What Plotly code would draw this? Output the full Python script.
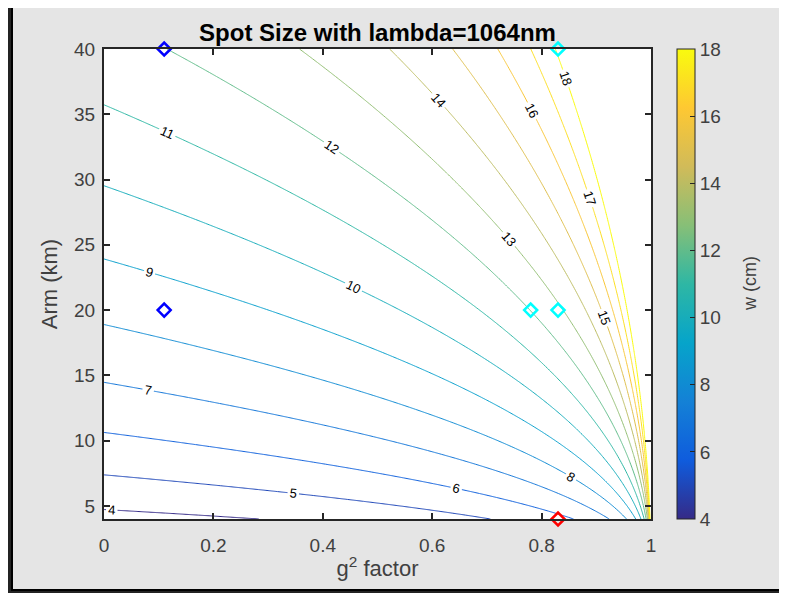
import numpy as np
import plotly.graph_objects as go

# ---- data ----
wavelength_m = 1064e-9                     # lambda = 1064 nm (from title)
g2_grid = np.linspace(0.0, 1.0, 501)       # x axis: g^2 factor
arm_km_grid = np.linspace(4.0, 40.0, 241)  # y axis: arm length (km)
contour_levels = dict(start=4, end=18, size=1)

marker_g2 = [0.11, 0.11, 0.78, 0.83, 0.83, 0.83]
marker_arm = [40, 20, 20, 20, 40, 4]
marker_colors = ["#0000ff", "#0000ff", "#00ffff", "#00ffff", "#00ffff", "#ff0000"]

x_ticks = [0, 0.2, 0.4, 0.6, 0.8, 1]
x_ticklabels = ["0", "0.2", "0.4", "0.6", "0.8", "1"]
y_ticks = [5, 10, 15, 20, 25, 30, 35, 40]
cbar_ticks = [4, 6, 8, 10, 12, 14, 16, 18]

# spot size on mirrors of a symmetric cavity, in cm
G2, L = np.meshgrid(g2_grid, arm_km_grid * 1000.0)
one_minus = np.clip(1.0 - G2, 1e-7, None)
W_cm = 100.0 * np.sqrt(L * wavelength_m / np.pi / np.sqrt(one_minus))

parula = [
    [0.000, "#352a87"], [0.125, "#0f5cdd"], [0.250, "#1481d6"],
    [0.375, "#06a4ca"], [0.500, "#2eb7a4"], [0.625, "#87bf77"],
    [0.750, "#d1bb59"], [0.875, "#fec832"], [1.000, "#f9fb0e"],
]

FONT = "Liberation Sans, Arial, Helvetica, sans-serif"
AX = "#262626"
TXT = "#404040"

W, H = 779, 585
ML, MT, PW, PH = 96, 41, 547, 470

fig = go.Figure()

fig.add_trace(go.Contour(
    x=g2_grid, y=arm_km_grid, z=W_cm,
    zmin=4, zmax=18, zauto=False,
    colorscale=parula,
    autocontour=False,
    contours=dict(coloring="lines", showlabels=True,
                  labelfont=dict(size=13, color="black", family=FONT),
                  **contour_levels),
    line=dict(width=1),
    showscale=False,
    hoverinfo="skip",
))

fig.add_trace(go.Scatter(
    x=marker_g2, y=marker_arm, mode="markers",
    marker=dict(symbol="diamond-open", size=10, color=marker_colors,
                line=dict(width=2.5, color=marker_colors)),
    showlegend=False, cliponaxis=False,
))

# colorbar carrier (invisible marker)
fig.add_trace(go.Scatter(
    x=[0.5], y=[20], mode="markers",
    marker=dict(size=1, opacity=0, color=[10], colorscale=parula,
                cmin=4, cmax=18, showscale=True,
                colorbar=dict(
                    x=(677 - 8 - ML) / PW, xanchor="left", xpad=0, ypad=0,
                    y=0.5, yanchor="middle", len=1, lenmode="fraction",
                    thickness=18, outlinecolor=AX, outlinewidth=1,
                    ticks="inside", ticklen=5, tickcolor=AX,
                    tickvals=cbar_ticks, ticktext=[str(v) for v in cbar_ticks],
                    tickprefix=" ",
                    tickfont=dict(size=19, color=TXT, family=FONT),
                )),
    showlegend=False, hoverinfo="skip",
))

def px2x(fx):
    return (fx - ML) / PW

def py2y(fy):
    return (MT + PH - fy) / PH

shapes = [
    dict(type="rect", xref="paper", yref="paper", layer="below",
         x0=px2x(4), x1=px2x(W + 10), y0=py2y(582), y1=py2y(-10),
         fillcolor="#e5e5e5", line=dict(color="black", width=2)),
    dict(type="rect", xref="paper", yref="paper", layer="below",
         x0=0, x1=1, y0=0, y1=1, fillcolor="white", line=dict(width=0)),
]

fig.update_layout(
    width=W, height=H,
    margin=dict(l=ML, r=W - ML - PW, t=MT, b=H - MT - PH, pad=0),
    paper_bgcolor="#232323", plot_bgcolor="white",
    font=dict(family=FONT, color=TXT),
    shapes=shapes,
    annotations=[dict(text="w (cm)", xref="paper", yref="paper",
                      x=px2x(750 - 8), y=0.5, xanchor="center", yanchor="middle",
                      textangle=-90, showarrow=False,
                      font=dict(size=18, color=TXT, family=FONT))],
    title=dict(text="<b>Spot Size with lambda=1064nm</b>",
               x=0.5, xref="paper", xanchor="center",
               y=1 - 25 / H, yref="container", yanchor="middle",
               font=dict(size=24, color="black", family=FONT)),
    xaxis=dict(range=[0, 1], tickvals=x_ticks, ticktext=x_ticklabels,
               ticks="inside", ticklen=6, tickwidth=2, tickcolor=AX,
               showline=True, linecolor=AX, linewidth=2, mirror="allticks",
               showgrid=False, zeroline=False, ticklabelstandoff=8,
               tickfont=dict(size=19, color=TXT),
               title=dict(text="g<sup>2</sup> factor", standoff=6,
                          font=dict(size=22, color=TXT))),
    yaxis=dict(range=[4, 40], tickvals=y_ticks,
               ticks="inside", ticklen=6, tickwidth=2, tickcolor=AX,
               showline=True, linecolor=AX, linewidth=2, mirror="allticks",
               showgrid=False, zeroline=False, ticklabelstandoff=3,
               tickfont=dict(size=19, color=TXT),
               title=dict(text="Arm (km)", standoff=10,
                          font=dict(size=22, color=TXT))),
)

fig.write_html("out.html")
